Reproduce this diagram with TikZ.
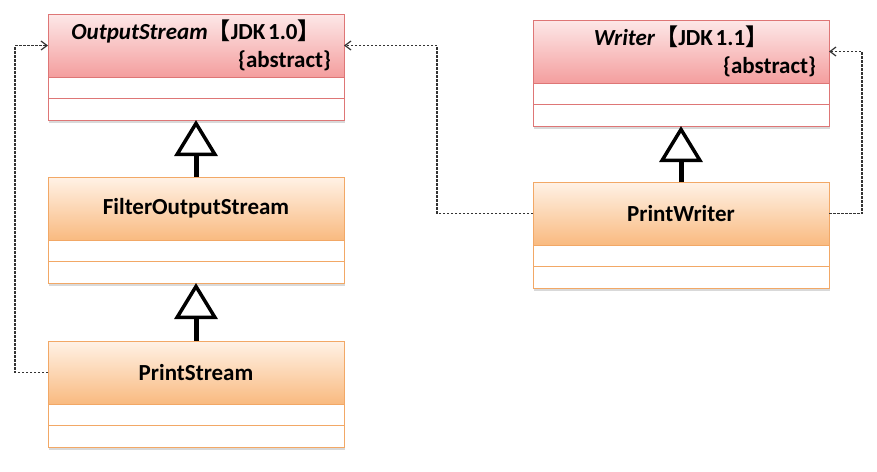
\documentclass[tikz,border=0pt]{standalone}
\usepackage{fontspec}
\setmainfont{Carlito}
\newfontfamily\cjkfont{Noto Sans CJK SC}
\usepackage{xcolor}
\usetikzlibrary{arrows.meta,positioning,shadows}
\definecolor{abstop}{HTML}{FDE8E8}
\definecolor{absbot}{HTML}{F49E9E}
\definecolor{absline}{HTML}{DE7676}
\definecolor{cnctop}{HTML}{FFF2E6}
\definecolor{cncbot}{HTML}{F9BA80}
\definecolor{cncline}{HTML}{F2A866}
\newcommand{\jdkver}[1]{{\cjkfont 【}JDK\hspace{0.12em}#1{\cjkfont 】}}

\begin{document}
\begin{tikzpicture}[
  x=1pt, y=-1pt,
  font=\fontsize{23}{28}\selectfont\bfseries,
  boxshadow/.style={drop shadow={opacity=0.3, shadow xshift=0.8pt, shadow yshift=-2.5pt}},
  classhead/.style={draw, line width=1pt, inner sep=0pt, outer sep=0pt, minimum width=296pt, minimum height=63pt, anchor=north west, boxshadow},
  abshead/.style={classhead, draw=absline, top color=abstop, bottom color=absbot, text width=270pt, align=center},
  cnchead/.style={classhead, draw=cncline, top color=cnctop, bottom color=cncbot},
  comp/.style={draw, line width=1pt, fill=white, inner sep=0pt, outer sep=0pt, minimum width=296pt, minimum height=21.5pt, boxshadow},
  abscomp/.style={comp, draw=absline},
  cnccomp/.style={comp, draw=cncline},
  inherit/.style={line width=5pt, -{Triangle[open, length=36pt, width=43pt, line width=3.5pt]}},
  dep/.style={line width=1.2pt, draw=black!80, dash pattern=on 2.5pt off 1.5pt, -{Straight Barb[length=6pt, width=9pt, line width=1.2pt]}}
]
\useasboundingbox (0,0) rectangle (877,471);

\node[abshead] (outhead) at (48,14) {\textit{OutputStream}\jdkver{1.0}\\\hfill\{abstract\}};
\node[abscomp, below=0pt of outhead] (outattr) {};
\node[abscomp, below=0pt of outattr] (outops) {};

\node[cnchead] (filthead) at (48,177) {FilterOutputStream};
\node[cnccomp, below=0pt of filthead] (filtattr) {};
\node[cnccomp, below=0pt of filtattr] (filtops) {};

\node[cnchead] (pshead) at (48,341) {PrintStream};
\node[cnccomp, below=0pt of pshead] (psattr) {};
\node[cnccomp, below=0pt of psattr] (psops) {};

\node[abshead] (wrhead) at (533,20) {\textit{Writer}\jdkver{1.1}\\\hfill\{abstract\}};
\node[abscomp, below=0pt of wrhead] (wrattr) {};
\node[abscomp, below=0pt of wrattr] (wrops) {};

\node[cnchead] (pwhead) at (533,182) {PrintWriter};
\node[cnccomp, below=0pt of pwhead] (pwattr) {};
\node[cnccomp, below=0pt of pwattr] (pwops) {};

\draw[inherit] (filthead) -- (outops);
\draw[inherit] (pshead) -- (filtops);
\draw[inherit] (pwhead) -- (wrops);

\draw[dep] (pshead.west) -- ++(-33,0) |- (outhead.west);
\draw[dep] (pwhead.west) -- ++(-96,0) |- (outhead.east);
\draw[dep] (pwhead.east) -- ++(33,0) |- (wrhead.east);
\end{tikzpicture}
\end{document}
